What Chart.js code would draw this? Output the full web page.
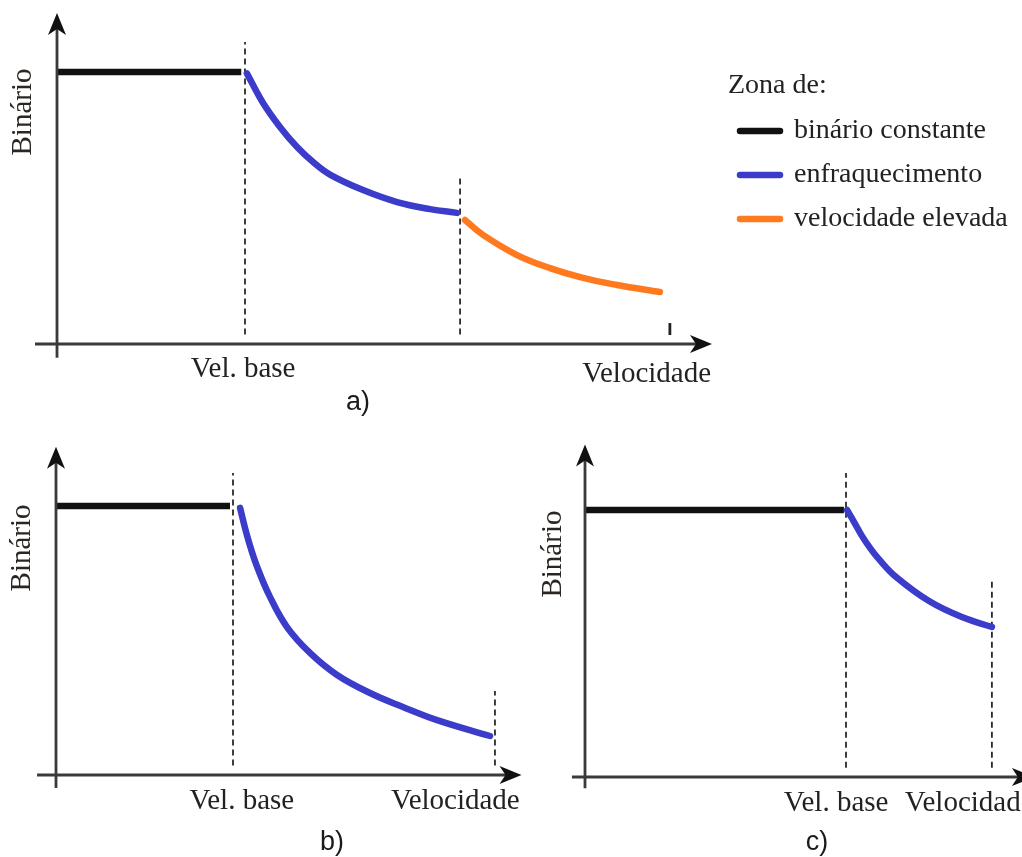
<!DOCTYPE html>
<html lang="pt">
<head>
<meta charset="UTF-8">
<title>Zonas de funcionamento - binário vs velocidade</title>
<script src="https://cdn.jsdelivr.net/npm/chart.js"></script>
<style>
  html, body { margin: 0; padding: 0; background: #fff; }
  body { width: 1022px; height: 857px; position: relative; overflow: hidden; }
  .box { position: absolute; }
</style>
</head>
<body>
<div class="box" style="left:0;top:0;width:1022px;height:430px"><canvas id="chartA"></canvas></div>
<div class="box" style="left:0;top:430px;width:540px;height:427px"><canvas id="chartB"></canvas></div>
<div class="box" style="left:540px;top:430px;width:482px;height:427px"><canvas id="chartC"></canvas></div>

<script>
// velocidade normalizada (1 = vel. base), binário normalizado (1 = binário nominal)
const zoneLabels = ['binário constante', 'enfraquecimento', 'velocidade elevada'];
const zoneColors = ['#111111', '#3b3cc9', '#ff7a1e'];

// a)
const aConstX = [0, 0.98];
const aConstY = [1, 1];
const aWeakX = [1.01, 1.096, 1.186, 1.277, 1.362, 1.452, 1.628, 1.809, 1.984, 2.128];
const aWeakY = [0.995, 0.886, 0.798, 0.724, 0.669, 0.623, 0.566, 0.522, 0.496, 0.482];
const aHighX = [2.17, 2.266, 2.447, 2.622, 2.798, 2.979, 3.207];
const aHighY = [0.456, 0.401, 0.327, 0.279, 0.243, 0.217, 0.191];
const aGuideX = [1, 2.144];
const aGuideTop = [1.11, 0.618];

// b)
const bConstX = [0, 0.983];
const bConstY = [1, 1];
const bWeakX = [1.04, 1.068, 1.102, 1.141, 1.209, 1.305, 1.435, 1.588, 1.774, 1.96, 2.153, 2.452];
const bWeakY = [0.993, 0.918, 0.84, 0.766, 0.662, 0.55, 0.454, 0.372, 0.305, 0.253, 0.204, 0.145];
const bGuideX = [1, 2.48];
const bGuideTop = [1.123, 0.312];

// c)
const cConstX = [0, 0.992];
const cConstY = [1, 1];
const cWeakX = [1.004, 1.031, 1.061, 1.092, 1.126, 1.192, 1.318, 1.444, 1.559];
const cWeakY = [1.0, 0.955, 0.903, 0.858, 0.816, 0.749, 0.659, 0.599, 0.562];
const cGuideX = [1, 1.559];
const cGuideTop = [1.139, 0.734];

const axisLabelY = 'Binário';
const labelBase = 'Vel. base';
const labelSpeed = 'Velocidade';
const legendTitle = 'Zona de:';

const SERIF = '"Liberation Serif", "Times New Roman", serif';
const SANS = '"Liberation Sans", Arial, sans-serif';

const pts = (xs, ys) => xs.map((x, i) => ({ x: x, y: ys[i] }));

function zoneSet(i, xs, ys) {
  return {
    label: zoneLabels[i], data: pts(xs, ys), borderColor: zoneColors[i],
    borderWidth: 6.5, borderCapStyle: i === 0 ? 'butt' : 'round',
    tension: 0.4
  };
}

function guideSets(xs, tops) {
  return xs.map((x, i) => ({
    label: '', data: [{ x: x, y: 0.035 }, { x: x, y: tops[i] }],
    borderColor: '#2a2a2a', borderWidth: 1.8, borderDash: [6, 4]
  }));
}

function arrow(ctx, x, y, ang) {
  ctx.save();
  ctx.translate(x, y);
  ctx.rotate(ang);
  ctx.beginPath();
  ctx.moveTo(0, 0);
  ctx.lineTo(-22, -9);
  ctx.lineTo(-16, 0);
  ctx.lineTo(-22, 9);
  ctx.closePath();
  ctx.fillStyle = '#111';
  ctx.fill();
  ctx.restore();
}

// eixos, setas e textos
const sketchPlugin = {
  id: 'sketch',
  afterDraw(chart, args, o) {
    const ctx = chart.ctx, sx = chart.scales.x, sy = chart.scales.y;
    const x0 = sx.getPixelForValue(0), y0 = sy.getPixelForValue(0);
    ctx.save();
    ctx.strokeStyle = '#3a3a3a';
    ctx.lineWidth = 2.8;
    ctx.beginPath();
    ctx.moveTo(sx.getPixelForValue(o.axisX[0]), y0);
    ctx.lineTo(sx.getPixelForValue(o.axisX[1]) - 10, y0);
    ctx.moveTo(x0, sy.getPixelForValue(o.axisY[0]));
    ctx.lineTo(x0, sy.getPixelForValue(o.axisY[1]) + 10);
    ctx.stroke();
    arrow(ctx, sx.getPixelForValue(o.axisX[1]), y0, 0);
    arrow(ctx, x0, sy.getPixelForValue(o.axisY[1]), -Math.PI / 2);

    if (o.endTick) {
      ctx.strokeStyle = '#222';
      ctx.lineWidth = 2.8;
      ctx.beginPath();
      ctx.moveTo(sx.getPixelForValue(o.endTick[0]), sy.getPixelForValue(o.endTick[1]));
      ctx.lineTo(sx.getPixelForValue(o.endTick[0]), sy.getPixelForValue(o.endTick[2]));
      ctx.stroke();
    }

    ctx.fillStyle = '#222';
    ctx.font = '29px ' + SERIF;
    ctx.textBaseline = 'alphabetic';
    ctx.textAlign = 'center';
    ctx.fillText(labelBase, sx.getPixelForValue(o.baseLabel[0]), y0 + o.baseLabel[1]);
    ctx.textAlign = o.speedLabel[2];
    ctx.fillText(labelSpeed, sx.getPixelForValue(o.speedLabel[0]), y0 + o.speedLabel[1]);

    ctx.save();
    ctx.translate(x0 - o.yLabel[0], sy.getPixelForValue(o.yLabel[1]));
    ctx.rotate(-Math.PI / 2);
    ctx.textAlign = 'center';
    ctx.textBaseline = 'middle';
    ctx.fillStyle = '#2c2622';
    ctx.fillText(axisLabelY, 0, 0);
    ctx.restore();

    ctx.font = '27px ' + SANS;
    ctx.textAlign = 'center';
    ctx.textBaseline = 'middle';
    ctx.fillStyle = '#1a1a1a';
    ctx.fillText(o.panel[0], o.panel[1], o.panel[2]);

    if (o.legend) {
      const L = o.legend;
      ctx.font = '28px ' + SERIF;
      ctx.textAlign = 'left';
      ctx.textBaseline = 'middle';
      ctx.fillStyle = '#222';
      ctx.fillText(legendTitle, L.x, L.y);
      chart.data.datasets.filter(d => d.label).forEach((d, i) => {
        const yy = L.y + L.first + i * L.step;
        ctx.strokeStyle = d.borderColor;
        ctx.lineWidth = 6.5;
        ctx.lineCap = 'round';
        ctx.beginPath();
        ctx.moveTo(L.x + 12, yy);
        ctx.lineTo(L.x + 52, yy);
        ctx.stroke();
        ctx.fillStyle = '#222';
        ctx.fillText(d.label, L.x + 66, yy);
      });
    }
    ctx.restore();
  }
};

function makeChart(id, lay, datasets, opts) {
  return new Chart(document.getElementById(id), {
    type: 'scatter',
    data: { datasets: datasets },
    options: {
      responsive: true,
      maintainAspectRatio: false,
      animation: false,
      events: [],
      showLine: true,
      elements: { point: { radius: 0 } },
      layout: { padding: 0 },
      scales: {
        x: { type: 'linear', display: false, min: -lay.ox / lay.ux, max: (lay.w - lay.ox) / lay.ux },
        y: { type: 'linear', display: false, min: -(lay.h - lay.oy) / lay.uy, max: lay.oy / lay.uy }
      },
      plugins: { legend: { display: false }, tooltip: { enabled: false }, sketch: opts }
    },
    plugins: [sketchPlugin]
  });
}

makeChart('chartA', { w: 1022, h: 430, ox: 57, oy: 344, ux: 188, uy: 272 },
  [zoneSet(0, aConstX, aConstY), zoneSet(1, aWeakX, aWeakY), zoneSet(2, aHighX, aHighY)]
    .concat(guideSets(aGuideX, aGuideTop)),
  {
    axisX: [-0.117, 3.484], axisY: [-0.051, 1.217], endTick: [3.26, 0.033, 0.077],
    baseLabel: [0.99, 33], speedLabel: [3.479, 38, 'right'], yLabel: [34, 0.853],
    panel: ['a)', 358, 403],
    legend: { x: 728, y: 86, first: 45, step: 44 }
  });

makeChart('chartB', { w: 540, h: 427, ox: 56, oy: 345, ux: 177, uy: 269 },
  [zoneSet(0, bConstX, bConstY), zoneSet(1, bWeakX, bWeakY)].concat(guideSets(bGuideX, bGuideTop)),
  {
    axisX: [-0.107, 2.63], axisY: [-0.048, 1.22],
    baseLabel: [1.05, 34], speedLabel: [2.62, 34, 'right'], yLabel: [34, 0.844],
    panel: ['b)', 332, 413]
  });

makeChart('chartC', { w: 482, h: 427, ox: 45, oy: 347, ux: 261, uy: 267 },
  [zoneSet(0, cConstX, cConstY), zoneSet(1, cWeakX, cWeakY)].concat(guideSets(cGuideX, cGuideTop)),
  {
    axisX: [-0.05, 1.72], axisY: [-0.042, 1.245],
    baseLabel: [0.962, 34], speedLabel: [1.225, 34, 'left'], yLabel: [32, 0.835],
    panel: ['c)', 277, 413]
  });
</script>
</body>
</html>
